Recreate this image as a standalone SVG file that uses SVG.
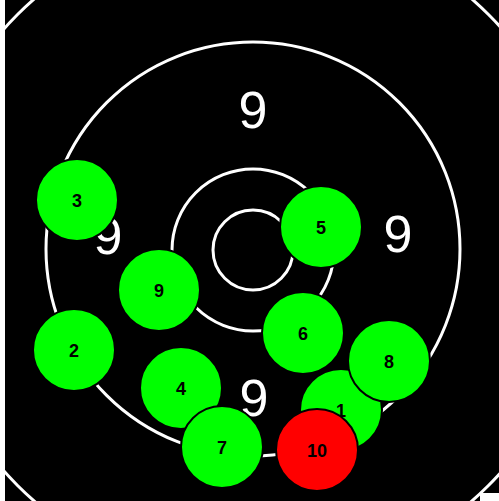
<svg xmlns="http://www.w3.org/2000/svg" width="499" height="501" viewBox="0 0 499 501">
<style>
.ring{fill:none;stroke:#fff;stroke-width:3}
.score{fill:#fff;font-family:"Liberation Sans",Arial,sans-serif;font-size:52px;text-anchor:middle}
.shot circle{fill:#00ff00;stroke:#000;stroke-width:2}
.shot text{fill:#000;font-family:"Liberation Sans",Arial,sans-serif;font-size:18px;font-weight:bold;text-anchor:middle}
#s10 circle{fill:#ff0000}
</style>
<rect x="0" y="0" width="499" height="501" fill="#fff"/>
<rect x="5" y="0" width="494" height="501" fill="#000"/>
<g id="target">
<circle class="ring" cx="253" cy="250" r="333"/>
<circle class="ring" cx="253" cy="249" r="207"/>
<circle class="ring" cx="253" cy="250" r="81"/>
<circle class="ring" cx="253" cy="250" r="40"/>
<text class="score" x="253" y="128">9</text>
<text class="score" x="398" y="252">9</text>
<text class="score" x="108" y="254">9</text>
<text class="score" x="254" y="416">9</text>
</g>
<rect x="480" y="493" width="19" height="8" fill="#fff"/>
<g id="s1" class="shot"><circle cx="341" cy="410" r="41"/><text x="341" y="417">1</text></g>
<g id="s2" class="shot"><circle cx="74" cy="350" r="41"/><text x="74" y="357">2</text></g>
<g id="s3" class="shot"><circle cx="77" cy="200" r="41"/><text x="77" y="207">3</text></g>
<g id="s4" class="shot"><circle cx="181" cy="388" r="41"/><text x="181" y="395">4</text></g>
<g id="s5" class="shot"><circle cx="321" cy="227" r="41"/><text x="321" y="234">5</text></g>
<g id="s6" class="shot"><circle cx="303" cy="333" r="41"/><text x="303" y="340">6</text></g>
<g id="s7" class="shot"><circle cx="222" cy="447" r="41"/><text x="222" y="454">7</text></g>
<g id="s8" class="shot"><circle cx="389" cy="361" r="41"/><text x="389" y="368">8</text></g>
<g id="s9" class="shot"><circle cx="159" cy="290" r="41"/><text x="159" y="297">9</text></g>
<g id="s10" class="shot"><circle cx="317" cy="450" r="41"/><text x="317" y="457">10</text></g>
</svg>
